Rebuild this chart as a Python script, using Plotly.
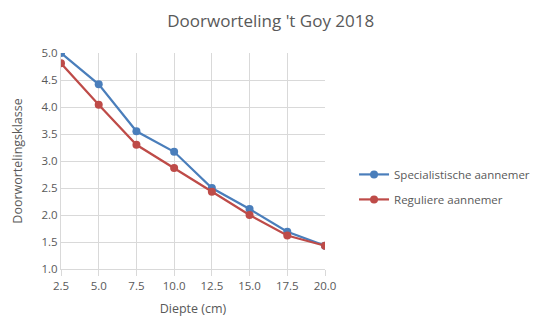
import plotly.graph_objects as go

# Depth in cm and rooting class per contractor type
diepte = [2.5, 5.0, 7.5, 10.0, 12.5, 15.0, 17.5, 20.0]
specialistisch = [5.00, 4.42, 3.55, 3.17, 2.50, 2.11, 1.69, 1.43]
regulier = [4.81, 4.04, 3.30, 2.87, 2.43, 2.00, 1.62, 1.43]

x_ticks = [2.5, 5.0, 7.5, 10.0, 12.5, 15.0, 17.5, 20.0]
y_ticks = [1.0, 1.5, 2.0, 2.5, 3.0, 3.5, 4.0, 4.5, 5.0]

text_color = "#595959"
grid_color = "#d9d9d9"
font_family = "Open Sans, Liberation Sans, sans-serif"

fig = go.Figure()
fig.add_trace(go.Scatter(
    x=diepte, y=specialistisch, name="Specialistische aannemer",
    legendgroup="spec",
    mode="lines+markers",
    line=dict(color="#4a7ebb", width=2.2),
    marker=dict(color="#4a7ebb", size=8),
))
fig.add_trace(go.Scatter(
    x=diepte, y=regulier, name="Reguliere aannemer",
    legendgroup="reg",
    mode="lines+markers",
    line=dict(color="#be4b48", width=2.2),
    marker=dict(color="#be4b48", size=8),
))

fig.update_layout(
    width=547, height=320,
    paper_bgcolor="white", plot_bgcolor="white",
    margin=dict(l=61, r=222, t=53, b=51),
    font=dict(family=font_family, color=text_color, size=11),
    title=dict(text="Doorworteling 't Goy 2018", x=0.495, xanchor="center",
               y=0.935, yanchor="middle",
               font=dict(size=17, color=text_color)),
    legend=dict(x=1.11, y=0.38, xanchor="left", yanchor="middle",
                font=dict(size=11.5, color=text_color),
                tracegroupgap=6, itemwidth=30),
    showlegend=True,
)
fig.update_xaxes(
    range=[2.5, 20.0], tickvals=x_ticks,
    ticktext=[f"{v:.1f}" for v in x_ticks],
    showgrid=True, gridcolor=grid_color, gridwidth=1,
    showline=True, linecolor=grid_color, linewidth=1,
    ticks="outside", tickcolor=grid_color, ticklen=6,
    zeroline=False, automargin=False,
    title=dict(text="Diepte (cm)", font=dict(size=12.5, color=text_color), standoff=12),
    tickfont=dict(size=11.5, color=text_color),
)
fig.update_yaxes(
    range=[1.0, 5.0], tickvals=y_ticks,
    ticktext=[f"{v:.1f}" for v in y_ticks],
    showgrid=True, gridcolor=grid_color, gridwidth=1,
    showline=True, linecolor=grid_color, linewidth=1,
    zeroline=False, automargin=False,
    title=dict(text="Doorwortelingsklasse", font=dict(size=12.5, color=text_color), standoff=16),
    tickfont=dict(size=11.5, color=text_color),
)

fig.write_html("out.html")
